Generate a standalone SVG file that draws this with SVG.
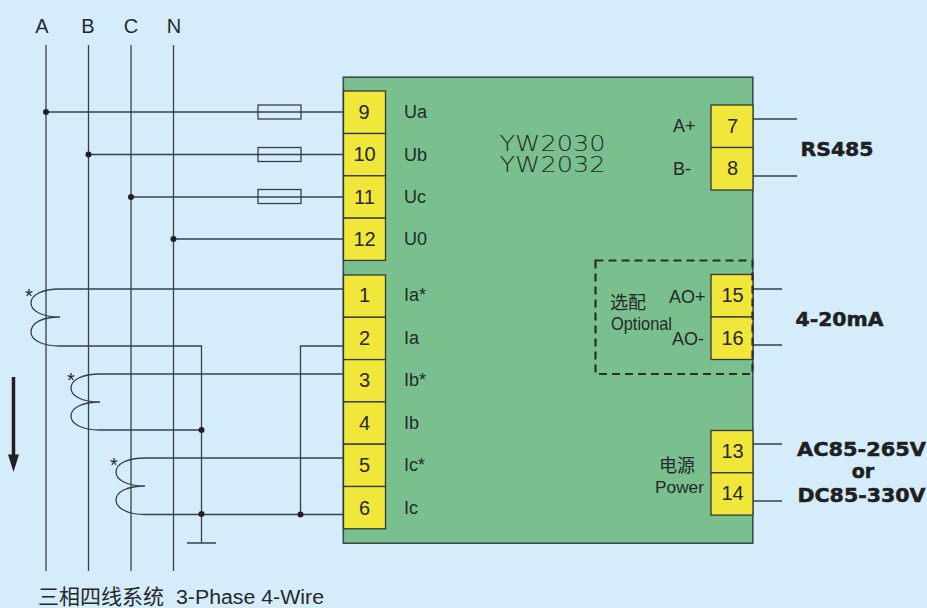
<svg xmlns="http://www.w3.org/2000/svg" width="927" height="608" viewBox="0 0 927 608">
<style>
.w{fill:none;stroke:#3a3f44;stroke-width:1.3}
.t{fill:#f1e73b;stroke:#33383c;stroke-width:1.3}
.f{fill:none;stroke:#3a3f44;stroke-width:1.3}
text{font-family:"Liberation Sans",Arial,sans-serif;fill:#26282a}
.n{font-size:20px;text-anchor:middle}
.l{font-size:18px}
.b{font-family:"DejaVu Sans",sans-serif;font-weight:bold;font-size:19px;text-anchor:middle;fill:#1f2022;stroke:#1f2022;stroke-width:.5}
.c{font-family:"Liberation Sans","Noto Sans CJK SC",sans-serif}
.y{font-family:"DejaVu Sans",sans-serif;font-weight:200;font-size:21px;text-anchor:middle}
</style>
<rect width="927" height="608" fill="#d5edfb"/>
<g id="enclosure"><rect x="343.300" y="77.200" width="409.500" height="466" fill="#79c08e" stroke="#3f4a48" stroke-width="1.600"/>
<text class="y" x="552.500" y="151" textLength="106" lengthAdjust="spacingAndGlyphs">YW2030</text>
<text class="y" x="552.500" y="172" textLength="106" lengthAdjust="spacingAndGlyphs">YW2032</text></g>
<g id="connectors">
<path class="w" d="M46 45V571M88.500 45V571M131 45V571M173.500 45V571"/>
<path class="w" d="M46 112H343M88.500 154.500H343M131 197H343M173.500 239H343"/>
<path class="w" d="M60 289H343M60 346H201.500V543M187 543H216M60 289C42 289 31 295 31 303C31 311 42 317 60 317C42 317 31 323 31 332C31 340 42 346 60 346"/>
<path class="w" d="M100 374H343M100 430H201.500M100 374C82 374 71 380 71 388C71 396 82 402 100 402C82 402 71 408 71 416C71 424 82 430 100 430"/>
<path class="w" d="M145 458H343M145 514.500H343M145 458C127 458 116 464 116 472C116 480 127 486 145 486C127 486 116 492 116 500C116 508 127 514.500 145 514.500"/>
<path class="w" d="M343 346H300.500V514.500"/>
<path class="w" d="M753 119H797M753 176H797M753 289H782M753 345H782M753 444H782M753 501H782"/>
<g fill="#231f20"><circle cx="46" cy="112" r="3"/><circle cx="88.500" cy="154.500" r="3"/><circle cx="131" cy="197" r="3"/><circle cx="173.500" cy="239" r="3"/><circle cx="201.500" cy="430" r="3"/><circle cx="201.500" cy="514" r="3"/><circle cx="300.500" cy="514.500" r="3"/></g>
<path d="M13.500 377V456" stroke="#231f20" stroke-width="3.500" fill="none"/><path d="M8 454.500H19L13.500 472Z" fill="#231f20"/>
</g>
<g id="fuses"><rect class="f" x="258" y="105" width="43" height="14"/><rect class="f" x="258" y="147.500" width="43" height="14"/><rect class="f" x="258" y="189.500" width="43" height="14"/></g>
<g id="t9"><rect class="t" x="343.500" y="91" width="42" height="42.500"/><text class="n" x="364" y="119">9</text><text class="l" x="404" y="118">Ua</text></g>
<g id="t10"><rect class="t" x="343.500" y="133.500" width="42" height="42.300"/><text class="n" x="364.500" y="161">10</text><text class="l" x="404" y="161">Ub</text></g>
<g id="t11"><rect class="t" x="343.500" y="175.800" width="42" height="42.300"/><text class="n" x="364.500" y="204">11</text><text class="l" x="404" y="203">Uc</text></g>
<g id="t12"><rect class="t" x="343.500" y="218.100" width="42" height="42.300"/><text class="n" x="364.500" y="246">12</text><text class="l" x="404" y="245">U0</text></g>
<g id="t1"><rect class="t" x="343.500" y="275" width="42" height="42.300"/><text class="n" x="364.500" y="302">1</text><text class="l" x="404" y="301">Ia*</text></g>
<g id="t2"><rect class="t" x="343.500" y="317.300" width="42" height="42.300"/><text class="n" x="364.500" y="345">2</text><text class="l" x="404" y="344">Ia</text></g>
<g id="t3"><rect class="t" x="343.500" y="359.600" width="42" height="42.300"/><text class="n" x="364.500" y="387">3</text><text class="l" x="404" y="386">Ib*</text></g>
<g id="t4"><rect class="t" x="343.500" y="401.900" width="42" height="42.300"/><text class="n" x="364.500" y="430">4</text><text class="l" x="404" y="429">Ib</text></g>
<g id="t5"><rect class="t" x="343.500" y="444.200" width="42" height="42.300"/><text class="n" x="364.500" y="472">5</text><text class="l" x="404" y="471">Ic*</text></g>
<g id="t6"><rect class="t" x="343.500" y="486.500" width="42" height="42.300"/><text class="n" x="364.500" y="515">6</text><text class="l" x="404" y="514">Ic</text></g>
<g id="t7"><rect class="t" x="711" y="105" width="42" height="42.500"/><text class="n" x="732.500" y="133">7</text><text class="l" x="673" y="132">A+</text></g>
<g id="t8"><rect class="t" x="711" y="147.500" width="42" height="42.500"/><text class="n" x="732.500" y="175">8</text><text class="l" x="673" y="175">B-</text></g>
<g id="t15"><rect class="t" x="711" y="274.500" width="42" height="42.500"/><text class="n" x="732.500" y="302">15</text><text class="l" x="669" y="303">AO+</text></g>
<g id="t16"><rect class="t" x="711" y="317" width="42" height="42.500"/><text class="n" x="732.500" y="345">16</text><text class="l" x="672" y="345">AO-</text></g>
<g id="t13"><rect class="t" x="711" y="430.500" width="42" height="42.300"/><text class="n" x="732.500" y="458">13</text></g>
<g id="t14"><rect class="t" x="711" y="472.800" width="42" height="42.300"/><text class="n" x="732.500" y="500">14</text></g>
<g id="optional"><rect x="595.500" y="260.500" width="157" height="113.500" fill="none" stroke="#2b2d2e" stroke-width="2.200" stroke-dasharray="8 5"/>
<text class="c" x="610" y="309" font-size="18">选配</text><text x="611" y="330" font-size="19" fill="#33453c" textLength="61" lengthAdjust="spacingAndGlyphs">Optional</text></g>
<g id="power"><text class="c" x="659" y="472" font-size="18">电源</text><text x="655" y="493" font-size="16" textLength="49" lengthAdjust="spacingAndGlyphs">Power</text></g>
<g id="labels">
<text x="42" y="33" font-size="20" text-anchor="middle">A</text><text x="88" y="33" font-size="20" text-anchor="middle">B</text><text x="131" y="33" font-size="20" text-anchor="middle">C</text><text x="174" y="33" font-size="20" text-anchor="middle">N</text>
<text x="29" y="303" font-size="20" text-anchor="middle">*</text><text x="71" y="387" font-size="20" text-anchor="middle">*</text><text x="114" y="472" font-size="20" text-anchor="middle">*</text>
<text class="b" x="837" y="156" textLength="73" lengthAdjust="spacingAndGlyphs">RS485</text>
<text class="b" x="839.500" y="326" textLength="88" lengthAdjust="spacingAndGlyphs">4-20mA</text>
<text class="b" x="861.500" y="456" textLength="129" lengthAdjust="spacingAndGlyphs">AC85-265V</text>
<text class="b" x="863" y="478">or</text>
<text class="b" x="861.500" y="502" textLength="128" lengthAdjust="spacingAndGlyphs">DC85-330V</text>
<text class="c" x="38" y="604" font-size="21">三相四线系统</text>
<text x="176" y="604" font-size="20" textLength="148" lengthAdjust="spacingAndGlyphs">3-Phase 4-Wire</text>
</g>
</svg>
